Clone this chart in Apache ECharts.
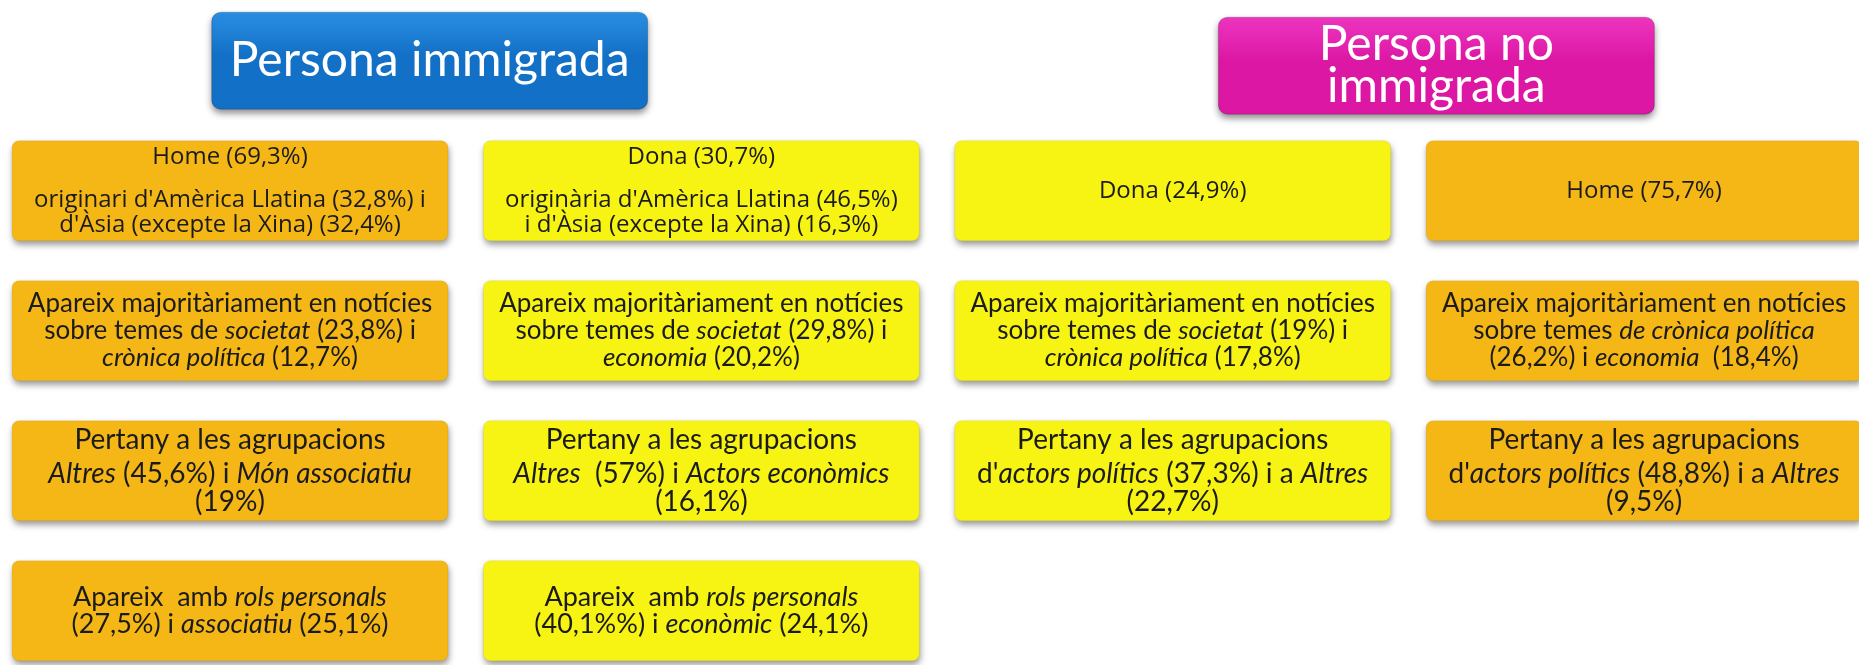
<!DOCTYPE html>
<html>
<head>
<meta charset="utf-8">
<script src="https://cdn.jsdelivr.net/npm/echarts@6/dist/echarts.min.js"></script>
<style>
  html, body { margin: 0; background: #fff; }
  #perfil { width: 1859px; height: 665px; }
</style>
</head>
<body>
<div id="perfil"></div>
<script>
// capçaleres i columnes que agrupen
const headerTexts = ['Persona immigrada', 'Persona no\nimmigrada']
const headerCols = [[0, 1], [2, 3]]
const headerKind = ['immigrada', 'noImmigrada']

// sexe de cada columna (decideix el color de la caixa)
const colSex = ['Home', 'Dona', 'Dona', 'Home']

// fila 1: sexe i origen
const rowSexe = [
  "Home (69,3%)\n{gap| }\noriginari d'Amèrica Llatina (32,8%) i\nd'Àsia (excepte la Xina) (32,4%)",
  "Dona (30,7%)\n{gap| }\noriginària d'Amèrica Llatina (46,5%)\ni d'Àsia (excepte la Xina) (16,3%)",
  'Dona (24,9%)',
  'Home (75,7%)'
]
// fila 2: temes de les notícies
const rowTemes = [
  'Apareix majoritàriament en notícies\nsobre temes de {i|societat} (23,8%) i\n{i|crònica política} (12,7%)',
  'Apareix majoritàriament en notícies\nsobre temes de {i|societat} (29,8%) i\n{i|economia} (20,2%)',
  'Apareix majoritàriament en notícies\nsobre temes de {i|societat} (19%) i\n{i|crònica política} (17,8%)',
  'Apareix majoritàriament en notícies\nsobre temes {i|de crònica política}\n(26,2%) i {i|economia}  (18,4%)'
]
// fila 3: agrupacions
const rowAgrupacions = [
  'Pertany a les agrupacions\n{gap| }\n{i|Altres} (45,6%) i {i|Món associatiu}\n(19%)',
  'Pertany a les agrupacions\n{gap| }\n{i|Altres}  (57%) i {i|Actors econòmics}\n(16,1%)',
  "Pertany a les agrupacions\n{gap| }\nd'{i|actors polítics} (37,3%) i a {i|Altres}\n(22,7%)",
  "Pertany a les agrupacions\n{gap| }\nd'{i|actors polítics} (48,8%) i a {i|Altres}\n(9,5%)"
]
// fila 4: rols
const rowRols = [
  'Apareix  amb {i|rols personals}\n(27,5%) i {i|associatiu} (25,1%)',
  'Apareix  amb {i|rols personals}\n(40,1%%) i {i|econòmic} (24,1%)'
]

const rows = [rowSexe, rowTemes, rowAgrupacions, rowRols]

const cells = []
rows.forEach((row, r) => {
  row.forEach((text, c) => {
    cells.push({ col: c, row: r + 1, text: text, sex: colSex[c] })
  })
})
const headers = headerTexts.map((t, i) => ({
  col: (headerCols[i][0] + headerCols[i][1]) / 2,
  row: 0,
  text: t,
  kind: headerKind[i]
}))

const fillBySex = { Home: '#f4b716', Dona: '#f7f312' }
const headerFill = {
  immigrada: ['#2b8fe4', '#1270c6'],
  noImmigrada: ['#ee36c0', '#dc17a4']
}
// petit desplaçament de les capçaleres respecte al centre del grup [dx, dy]
const headerNudge = { immigrada: [-36, 10], noImmigrada: [28, 15] }
const BOX_W = 436
const BOX_H = 100
const HEAD_H = 97

// tipografia per fila
const rowFont = {
  1: { family: '"Open Sans", sans-serif', size: 24, lh: 25, gap: 18 },
  2: { family: 'Lato, sans-serif', size: 26, lh: 27, gap: 0 },
  3: { family: 'Lato, sans-serif', size: 28, lh: 28, gap: 6 },
  4: { family: 'Lato, sans-serif', size: 27, lh: 27, gap: 0 }
}

function textStyle(row, text) {
  const f = rowFont[row]
  return {
    text: text,
    fill: '#1b1b1b',
    fontFamily: f.family,
    fontSize: f.size,
    lineHeight: f.lh,
    align: 'center',
    verticalAlign: 'middle',
    rich: {
      i: { fontStyle: 'italic', fontFamily: f.family, fontSize: f.size, lineHeight: f.lh, fill: '#1b1b1b' },
      gap: { fontSize: 4, lineHeight: f.gap }
    }
  }
}

function renderCell(params, api) {
  const c = cells[params.dataIndex]
  const p = api.coord([api.value(0), api.value(1)])
  return {
    type: 'group',
    children: [
      {
        type: 'rect',
        shape: { x: p[0] - BOX_W / 2, y: p[1] - BOX_H / 2, width: BOX_W, height: BOX_H, r: 7 },
        style: {
          fill: fillBySex[c.sex],
          stroke: 'rgba(0,0,0,0.06)',
          shadowBlur: 6,
          shadowOffsetX: 1,
          shadowOffsetY: 4,
          shadowColor: 'rgba(0,0,0,0.4)'
        }
      },
      { type: 'text', x: p[0], y: p[1], style: textStyle(c.row, c.text) }
    ]
  }
}

function renderHeader(params, api) {
  const h = headers[params.dataIndex]
  const p = api.coord([api.value(0), api.value(1)])
  const cx = p[0] + headerNudge[h.kind][0]
  const cy = p[1] + headerNudge[h.kind][1]
  const cols = headerFill[h.kind]
  return {
    type: 'group',
    children: [
      {
        type: 'rect',
        shape: { x: cx - BOX_W / 2, y: cy - HEAD_H / 2, width: BOX_W, height: HEAD_H, r: 9 },
        style: {
          fill: new echarts.graphic.LinearGradient(0, 0, 0, 1, [
            { offset: 0, color: cols[0] },
            { offset: 0.45, color: cols[1] },
            { offset: 1, color: cols[1] }
          ]),
          stroke: 'rgba(0,0,0,0.18)',
          lineWidth: 1,
          shadowBlur: 7,
          shadowOffsetY: 4,
          shadowColor: 'rgba(0,0,0,0.45)'
        }
      },
      {
        type: 'text',
        x: cx,
        y: cy,
        style: {
          text: h.text,
          fill: '#ffffff',
          fontFamily: 'Lato, sans-serif',
          fontSize: 48,
          lineHeight: 42,
          align: 'center',
          verticalAlign: 'middle'
        }
      }
    ]
  }
}

const chart = echarts.init(document.getElementById('perfil'))
chart.setOption({
  animation: false,
  grid: { left: 0, right: 0, top: 0, bottom: 0 },
  xAxis: { type: 'value', min: -0.488, max: 3.456, show: false },
  yAxis: { type: 'value', inverse: true, min: -0.362, max: 4.388, show: false },
  series: [
    {
      type: 'custom',
      name: 'capçaleres',
      clip: false,
      encode: { x: 0, y: 1 },
      data: headers.map(h => [h.col, h.row]),
      renderItem: renderHeader
    },
    {
      type: 'custom',
      name: 'perfil',
      clip: false,
      encode: { x: 0, y: 1 },
      data: cells.map(c => [c.col, c.row]),
      renderItem: renderCell
    }
  ]
})
window.onresize = () => {
  chart.resize()
}
</script>
</body>
</html>
